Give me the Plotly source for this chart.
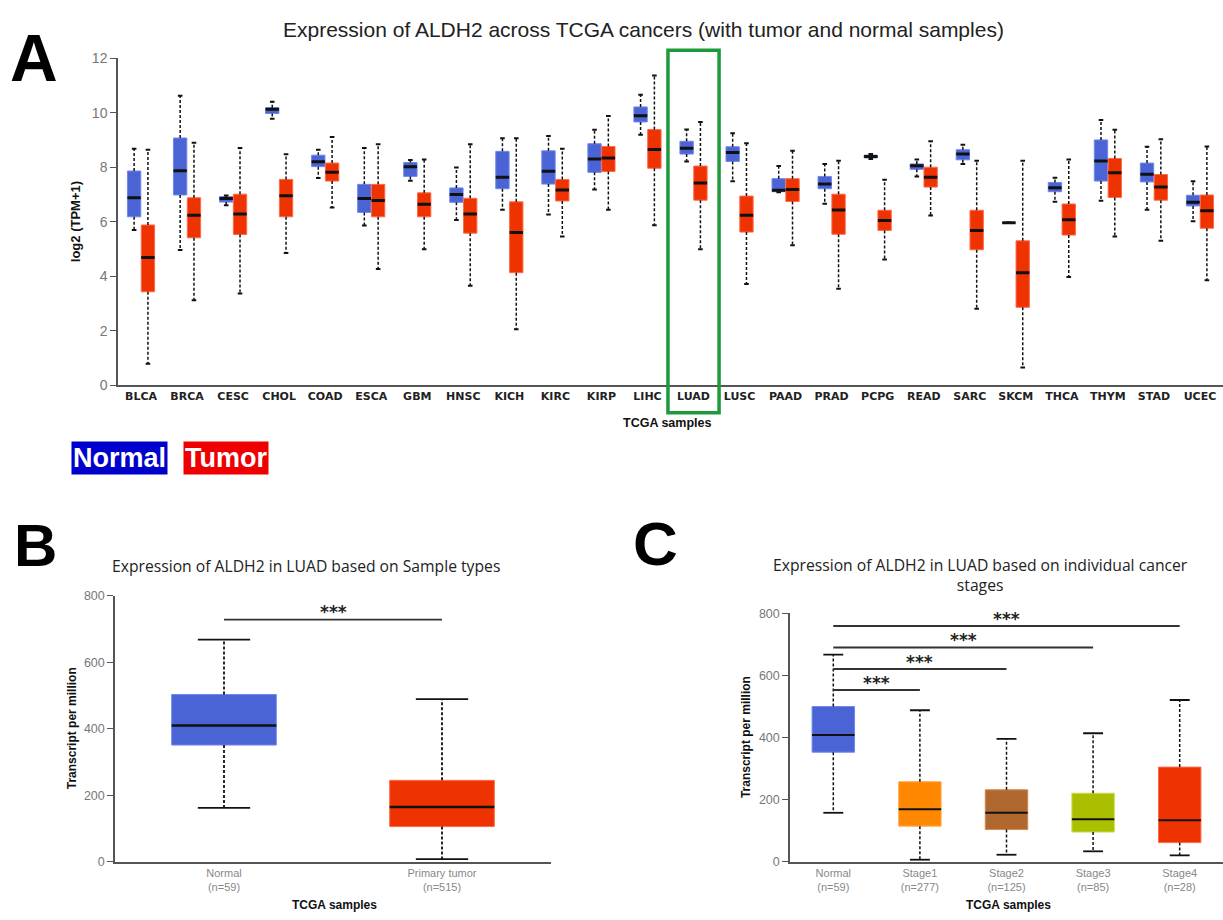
import plotly.graph_objects as go

W, H = 1223, 920

# ---------------- Panel A data (log2(TPM+1)) ----------------
cancers = ["BLCA", "BRCA", "CESC", "CHOL", "COAD", "ESCA", "GBM", "HNSC", "KICH", "KIRC",
           "KIRP", "LIHC", "LUAD", "LUSC", "PAAD", "PRAD", "PCPG", "READ", "SARC", "SKCM",
           "THCA", "THYM", "STAD", "UCEC"]

normal_lower = [5.70, 4.96, 6.60, 9.78, 7.60, 5.86, 7.50, 6.06, 6.44, 6.26, 7.18, 9.19,
                8.21, 7.48, 7.08, 6.66, 8.30, 7.66, 8.12, 5.96, 6.73, 6.77, 6.44, 6.02]
normal_q1 = [6.18, 6.98, 6.72, 9.97, 8.02, 6.34, 7.66, 6.71, 7.21, 7.38, 7.81, 9.66,
             8.48, 8.21, 7.10, 7.21, 8.34, 7.92, 8.27, 5.96, 7.10, 7.49, 7.46, 6.58]
normal_med = [6.88, 7.87, 6.85, 10.12, 8.20, 6.85, 8.02, 7.00, 7.63, 7.85, 8.30, 9.89,
              8.69, 8.54, 7.15, 7.38, 8.39, 8.05, 8.48, 5.96, 7.25, 8.23, 7.74, 6.71]
normal_q3 = [7.86, 9.07, 6.92, 10.18, 8.44, 7.37, 8.17, 7.24, 8.58, 8.60, 8.86, 10.21,
             8.95, 8.75, 7.58, 7.66, 8.44, 8.12, 8.64, 5.96, 7.44, 9.00, 8.15, 6.97]
normal_upper = [8.68, 10.62, 6.96, 10.40, 8.64, 8.70, 8.26, 7.99, 9.06, 9.14, 9.37, 10.66,
                9.38, 9.24, 8.04, 8.12, 8.48, 8.28, 8.82, 5.96, 7.61, 9.73, 8.75, 7.48]

tumor_lower = [0.79, 3.12, 3.37, 4.85, 6.52, 4.27, 4.99, 3.65, 2.06, 5.46, 6.44, 5.87,
               4.99, 3.72, 5.14, 3.54, 4.61, 6.23, 2.81, 0.65, 3.97, 5.46, 5.30, 3.85]
tumor_q1 = [3.43, 5.41, 5.53, 6.18, 7.49, 6.18, 6.18, 5.58, 4.13, 6.76, 7.84, 7.96,
            6.79, 5.62, 6.74, 5.54, 5.68, 7.27, 4.97, 2.86, 5.51, 6.89, 6.79, 5.76]
tumor_med = [4.69, 6.24, 6.28, 6.95, 7.81, 6.78, 6.64, 6.28, 5.60, 7.16, 8.34, 8.65,
             7.42, 6.24, 7.18, 6.43, 6.04, 7.63, 5.68, 4.13, 6.07, 7.80, 7.27, 6.40]
tumor_q3 = [5.88, 6.88, 7.01, 7.55, 8.15, 7.37, 7.06, 6.86, 6.73, 7.55, 8.76, 9.38,
            8.04, 6.94, 7.58, 7.01, 6.42, 8.00, 6.42, 5.30, 6.65, 8.32, 7.73, 6.98]
tumor_upper = [8.64, 8.90, 8.70, 8.47, 9.11, 8.84, 8.28, 8.84, 9.06, 8.68, 9.88, 11.36,
               9.66, 8.88, 8.60, 8.24, 7.54, 8.95, 8.24, 8.24, 8.28, 9.37, 9.02, 8.76]
highlight = "LUAD"

# ---------------- Panel B data (TPM) ----------------
b_groups = ["Normal<br>(n=59)", "Primary tumor<br>(n=515)"]
b_lower = [162, 8]
b_q1 = [351, 106]
b_med = [410, 165]
b_q3 = [503, 245]
b_upper = [668, 489]
b_sig = [728]

# ---------------- Panel C data (TPM) ----------------
c_groups = ["Normal<br>(n=59)", "Stage1<br>(n=277)", "Stage2<br>(n=125)",
            "Stage3<br>(n=85)", "Stage4<br>(n=28)"]
c_lower = [158, 7, 23, 34, 21]
c_q1 = [353, 115, 104, 96, 62]
c_med = [408, 169, 158, 137, 134]
c_q3 = [500, 258, 232, 221, 305]
c_upper = [667, 488, 396, 414, 521]
c_sig = [553, 621, 690, 759]
c_colors = ["#4A64D6", "#FF8800", "#B0682E", "#AABF00", "#EE3300"]
c_lines = ["#7088EE", "#FFAA55", "#D08A55", "#CCDD55", "#FF6A4D"]

BLUE, BLUE_LINE = "#4A64D6", "#7088EE"
RED, RED_LINE = "#EE3300", "#FF6A4D"


def px(x):
    return x / W


def py(y):
    return 1 - y / H


fig = go.Figure()


def add_boxes(pos, lo, q1, med, q3, up, width, cap_half, fill, line, xa, ya,
              wdash=1.5, wmed=3, wcap=2):
    # dashed whiskers
    xs, ys = [], []
    for p, a, b, c, d in zip(pos, lo, q1, q3, up):
        xs += [p, p, None, p, p, None]
        ys += [c, d, None, b, a, None]
    fig.add_trace(go.Scatter(x=xs, y=ys, mode="lines", xaxis=xa, yaxis=ya,
                             line=dict(color="#111111", width=wdash, dash="3px,2px"),
                             hoverinfo="skip", showlegend=False))
    # whisker caps
    xs, ys = [], []
    for p, a, d in zip(pos, lo, up):
        xs += [p - cap_half, p + cap_half, None, p - cap_half, p + cap_half, None]
        ys += [d, d, None, a, a, None]
    fig.add_trace(go.Scatter(x=xs, y=ys, mode="lines", xaxis=xa, yaxis=ya,
                             line=dict(color="#111111", width=wcap),
                             hoverinfo="skip", showlegend=False))
    # boxes
    for i, p in enumerate(pos):
        fc = fill[i] if isinstance(fill, list) else fill
        lc = line[i] if isinstance(line, list) else line
        fig.add_trace(go.Box(x=[p], q1=[q1[i]], median=[med[i]], q3=[q3[i]],
                             lowerfence=[q1[i]], upperfence=[q3[i]], width=width,
                             fillcolor=fc, line=dict(color=lc, width=1),
                             boxpoints=False, whiskerwidth=0, xaxis=xa, yaxis=ya,
                             hoverinfo="skip", showlegend=False))
    # black medians
    xs, ys = [], []
    for p, m in zip(pos, med):
        xs += [p - width / 2, p + width / 2, None]
        ys += [m, m, None]
    fig.add_trace(go.Scatter(x=xs, y=ys, mode="lines", xaxis=xa, yaxis=ya,
                             line=dict(color="#111111", width=wmed),
                             hoverinfo="skip", showlegend=False))


# Panel A
n = len(cancers)
pos_n = [i - 0.15 for i in range(n)]
pos_t = [i + 0.15 for i in range(n)]
add_boxes(pos_n, normal_lower, normal_q1, normal_med, normal_q3, normal_upper,
          0.29, 0.05, BLUE, BLUE_LINE, "x", "y")
add_boxes(pos_t, tumor_lower, tumor_q1, tumor_med, tumor_q3, tumor_upper,
          0.29, 0.05, RED, RED_LINE, "x", "y")

# Panel B
add_boxes(list(range(len(b_groups))), b_lower, b_q1, b_med, b_q3, b_upper,
          0.48, 0.12, [BLUE, RED], [BLUE_LINE, RED_LINE], "x2", "y2",
          wdash=1.8, wmed=2.5, wcap=1.8)
fig.add_trace(go.Scatter(x=[0, 1], y=[b_sig[0], b_sig[0]], mode="lines", xaxis="x2", yaxis="y2",
                         line=dict(color="#333333", width=1.8), hoverinfo="skip", showlegend=False))

# Panel C
add_boxes(list(range(len(c_groups))), c_lower, c_q1, c_med, c_q3, c_upper,
          0.49, 0.115, c_colors, c_lines, "x3", "y3",
          wdash=1.5, wmed=2, wcap=1.8)
for k, s in enumerate(c_sig):
    fig.add_trace(go.Scatter(x=[0, k + 1], y=[s, s], mode="lines", xaxis="x3", yaxis="y3",
                             line=dict(color="#333333", width=2), hoverinfo="skip",
                             showlegend=False))

# ---------------- axes ----------------
A_dom_x = [px(118), 1.0]
A_dom_y = [py(384), py(51)]
B_dom_x = [px(115), px(551)]
B_dom_y = [py(869), py(598)]
C_dom_x = [px(790), 1.0]
C_dom_y = [py(869), py(616)]

gray_tick = dict(family="Liberation Sans, Arial", size=14, color="#777777")
common_y = dict(showline=True, linecolor="#555555", linewidth=1.5, ticks="outside",
                ticklen=6, tickcolor="#555555", tickwidth=1.3, showgrid=False,
                zeroline=False)
common_x = dict(showline=True, linecolor="#555555", linewidth=1.5, ticks="",
                showgrid=False, zeroline=False)

fig.update_layout(
    width=W, height=H, margin=dict(l=0, r=0, t=0, b=0),
    paper_bgcolor="white", plot_bgcolor="white", showlegend=False,
    xaxis=dict(domain=A_dom_x, range=[-0.5, n - 0.5], tickvals=list(range(n)),
               ticktext=["<b>%s</b>" % c for c in cancers], anchor="y",
               tickfont=dict(family="DejaVu Sans", size=11, color="#222222"), **common_x),
    yaxis=dict(domain=A_dom_y, range=[0, 12], tickvals=[0, 2, 4, 6, 8, 10, 12], anchor="x",
               tickfont=gray_tick, **common_y),
    xaxis2=dict(domain=B_dom_x, range=[-0.5, 1.5], tickvals=[0, 1], ticktext=b_groups,
                anchor="y2",
                tickfont=dict(family="Liberation Sans Narrow, Liberation Sans", size=11,
                              color="#888888"), **common_x),
    yaxis2=dict(domain=B_dom_y, range=[0, 800], tickvals=[0, 200, 400, 600, 800],
                anchor="x2", tickfont=dict(family="Liberation Sans, Arial", size=12.5,
                                           color="#777777"), **common_y),
    xaxis3=dict(domain=C_dom_x, range=[-0.5, 4.5], tickvals=[0, 1, 2, 3, 4], ticktext=c_groups,
                anchor="y3",
                tickfont=dict(family="Liberation Sans Narrow, Liberation Sans", size=11,
                              color="#888888"), **common_x),
    yaxis3=dict(domain=C_dom_y, range=[0, 800], tickvals=[0, 200, 400, 600, 800],
                anchor="x3", tickfont=dict(family="Liberation Sans, Arial", size=12.5,
                                           color="#777777"), **common_y),
)

# ---------------- annotations ----------------
ann = []


def text(x, y, s, size, family="Liberation Sans, Arial", color="#111111", bold=False,
         angle=0, **kw):
    ann.append(dict(x=px(x), y=py(y), xref="paper", yref="paper",
                    text=("<b>%s</b>" % s) if bold else s, showarrow=False,
                    xanchor="center", yanchor="middle", textangle=angle,
                    font=dict(family=family, size=size, color=color), **kw))


# panel letters
text(34, 51, "A", 66, bold=True, color="#000000")
text(35, 547, "B", 60, bold=True, color="#000000")
text(655, 545, "C", 62, bold=True, color="#000000")

# panel A texts
text(643, 22, "Expression of ALDH2 across TCGA cancers (with tumor and normal samples)", 21,
     color="#222222")
text(75, 218, "log2 (TPM+1)", 13, bold=True, angle=-90)
text(667, 422, "TCGA samples", 12.5, bold=True)
text(119.5, 457.5, "Normal", 27, bold=True, color="#FFFFFF", bgcolor="#0000CC", borderpad=1)
text(225.5, 457.5, "Tumor", 27, bold=True, color="#FFFFFF", bgcolor="#EE0000", borderpad=1)

# panel B texts
text(306, 568, "Expression of ALDH2 in LUAD based on Sample types", 15.7,
     family="Open Sans, DejaVu Sans", color="#222222")
text(72, 733, "Transcript per million", 12, bold=True, angle=-90)
text(334, 913, "TCGA samples", 12, bold=True)

# panel C texts
text(980, 577, "Expression of ALDH2 in LUAD based on individual cancer<br>stages", 15.7,
     family="Open Sans, DejaVu Sans", color="#222222")
text(746, 742, "Transcript per million", 12, bold=True, angle=-90)
text(1008, 913, "TCGA samples", 12, bold=True)

# significance stars
ann.append(dict(x=0.5, y=b_sig[0], xref="x2", yref="y2", text="<b>***</b>", showarrow=False,
                yanchor="bottom", yshift=-4, font=dict(family="DejaVu Sans", size=17,
                                                      color="#222222")))
for k, s in enumerate(c_sig):
    ann.append(dict(x=(k + 1) / 2, y=s, xref="x3", yref="y3", text="<b>***</b>",
                    showarrow=False, yanchor="bottom", yshift=-5,
                    font=dict(family="DejaVu Sans", size=17, color="#222222")))

fig.update_layout(annotations=ann)

# green highlight rectangle around the LUAD column
hi = cancers.index(highlight)
span = A_dom_x[1] - A_dom_x[0]
x0 = A_dom_x[0] + (hi - 0.555 + 0.5) / n * span
x1 = A_dom_x[0] + (hi + 0.555 + 0.5) / n * span
fig.add_shape(type="rect", xref="paper", yref="paper", x0=x0, x1=x1, y0=py(412), y1=py(43),
              line=dict(color="#1E9A3C", width=3.5))

fig.write_html("out.html")
